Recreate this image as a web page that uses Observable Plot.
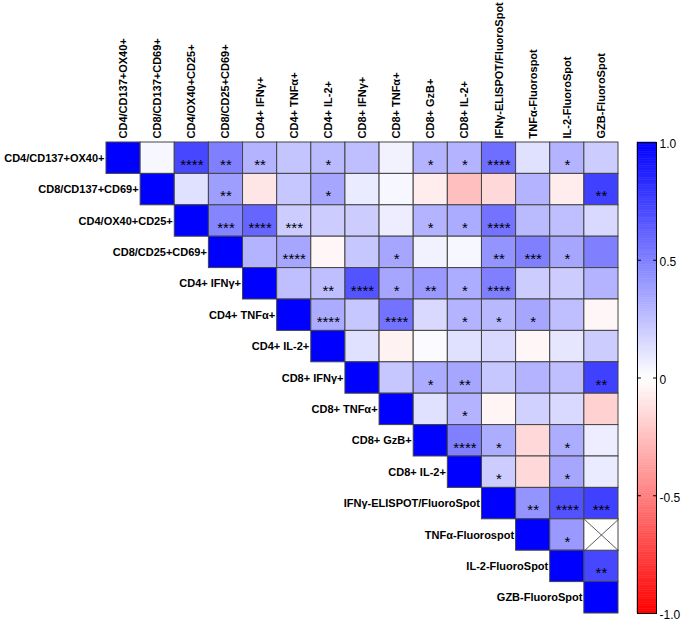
<!DOCTYPE html>
<html><head><meta charset="utf-8">
<script src="https://cdn.jsdelivr.net/npm/d3@7"></script>
<script src="https://cdn.jsdelivr.net/npm/@observablehq/plot@0.6"></script>
<style>
body{margin:0;background:#fff;}
#wrap{position:relative;width:685px;height:621px;overflow:hidden;}
#wrap svg{position:absolute;top:0;}
</style></head><body><div id="wrap"></div>
<script>
// Variables (same order for rows and columns)
const variables = [
  "CD4/CD137+OX40+", "CD8/CD137+CD69+", "CD4/OX40+CD25+", "CD8/CD25+CD69+",
  "CD4+ IFNγ+", "CD4+ TNFα+", "CD4+ IL-2+", "CD8+ IFNγ+", "CD8+ TNFα+",
  "CD8+ GzB+", "CD8+ IL-2+", "IFNγ-ELISPOT/FluoroSpot", "TNFα-Fluorospot",
  "IL-2-FluoroSpot", "GZB-FluoroSpot"
];

// Upper-triangle correlations, each row starts at the diagonal (null = not computed)
const corr = [
  [1, 0.03, 0.72, 0.50, 0.30, 0.23, 0.27, 0.25, 0.05, 0.30, 0.30, 0.57, 0.12, 0.30, 0.20],
  [1, 0.12, 0.38, -0.10, 0.22, 0.35, 0.08, 0.03, -0.07, -0.25, -0.15, 0.30, -0.07, 0.75],
  [1, 0.48, 0.60, 0.20, 0.20, 0.20, 0.07, 0.30, 0.33, 0.55, 0.27, 0.25, 0.15],
  [1, 0.30, 0.35, -0.03, 0.22, 0.35, 0.05, 0.03, 0.42, 0.50, 0.35, 0.50],
  [1, 0.25, 0.25, 0.67, 0.35, 0.40, 0.32, 0.50, 0.20, 0.20, 0.30],
  [1, 0.33, 0.22, 0.55, 0.15, 0.30, 0.28, 0.35, 0.25, -0.03],
  [1, 0.12, -0.05, 0.02, 0.12, 0.15, -0.03, 0.10, 0.20],
  [1, 0.22, 0.33, 0.35, 0.22, 0.30, 0.25, 0.75],
  [1, 0.12, 0.30, -0.04, 0.18, 0.15, -0.18],
  [1, 0.50, 0.32, -0.15, 0.32, 0.07],
  [1, 0.20, -0.15, 0.35, 0.08],
  [1, 0.42, 0.68, 0.75],
  [1, 0.40, null],
  [1, 0.72],
  [1]
];

// Significance stars, same layout as corr
const sig = [
  ["", "", "****", "**", "**", "", "*", "", "", "*", "*", "****", "", "*", ""],
  ["", "", "**", "", "", "*", "", "", "", "", "", "", "", "**"],
  ["", "***", "****", "***", "", "", "", "*", "*", "****", "", "", ""],
  ["", "", "****", "", "", "*", "", "", "**", "***", "*", ""],
  ["", "", "**", "****", "*", "**", "*", "****", "", "", ""],
  ["", "****", "", "****", "", "*", "*", "*", "", ""],
  ["", "", "", "", "", "", "", "", ""],
  ["", "", "*", "**", "", "", "", "**"],
  ["", "", "*", "", "", "", ""],
  ["", "****", "*", "", "*", ""],
  ["", "*", "", "*", ""],
  ["", "**", "****", "***"],
  ["", "*", ""],
  ["", "**"],
  [""]
];

const legendTicks = [1, 0.5, 0, -0.5, -1];
const legendTickLabels = ["1.0", "0.5", "0", "-0.5", "-1.0"];

const N = variables.length;
const cells = [];
corr.forEach((row, i) => row.forEach((v, k) => {
  cells.push({i, j: i + k, r: v, s: sig[i][k] || ""});
}));
const valid = cells.filter(d => d.r != null);
const missing = cells.filter(d => d.r == null);
const labels = variables.map((v, i) => ({v, i}));

const colorScale = {type: "linear", domain: [-1, 0, 1], range: ["#ff0000", "#ffffff", "#0000ff"]};
const font = "'Liberation Sans', Arial, Helvetica, sans-serif";
const gridStroke = "#444";

const main = Plot.plot({
  width: 685, height: 621,
  marginLeft: 106, marginRight: 67, marginTop: 142, marginBottom: 8,
  x: {domain: [0, N], axis: null},
  y: {domain: [0, N], axis: null, reverse: true},
  color: colorScale,
  style: {fontFamily: font, background: "transparent", overflow: "visible"},
  marks: [
    Plot.rect(valid, {x1: "j", x2: d => d.j + 1, y1: "i", y2: d => d.i + 1, fill: "r", stroke: gridStroke, strokeWidth: 1}),
    Plot.rect(missing, {x1: "j", x2: d => d.j + 1, y1: "i", y2: d => d.i + 1, fill: "white", stroke: gridStroke, strokeWidth: 1}),
    Plot.link(missing, {x1: "j", y1: "i", x2: d => d.j + 1, y2: d => d.i + 1, stroke: "#333", strokeWidth: 0.8}),
    Plot.link(missing, {x1: "j", y1: d => d.i + 1, x2: d => d.j + 1, y2: "i", stroke: "#333", strokeWidth: 0.8}),
    Plot.text(valid.filter(d => d.s), {x: d => d.j + 0.5, y: d => d.i + 0.5, text: "s", fontSize: 15, dy: 7, fill: "black", ariaLabel: "stars"}),
    Plot.text(labels, {x: "i", y: d => d.i + 0.5, text: "v", textAnchor: "end", dx: -2, fontWeight: "bold", fontSize: 11, fill: "black"}),
    Plot.text(labels, {x: d => d.i + 0.5, y: 0, text: "v", rotate: -90, textAnchor: "start", dy: -4, fontWeight: "bold", fontSize: 11, fill: "black"})
  ]
});
d3.select(main).selectAll("g[aria-label=stars] text").style("letter-spacing", "0.6px");
main.style.left = "0px";

// Colour bar legend
const step = 0.01;
const stops = d3.range(-1, 1 - step / 2, step);
const bar = Plot.plot({
  width: 48, height: 621,
  marginLeft: 0, marginRight: 29, marginTop: 142, marginBottom: 8,
  x: {domain: [0, 1], axis: null},
  y: {domain: [-1, 1], axis: null},
  color: colorScale,
  style: {fontFamily: font, background: "transparent", overflow: "visible"},
  marks: [
    Plot.rect(stops, {x1: 0, x2: 1, y1: d => d, y2: d => d + step, fill: d => d + step / 2, stroke: d => d + step / 2, strokeWidth: 0.5}),
    Plot.frame({stroke: "black", strokeWidth: 1}),
    Plot.link(legendTicks.slice(1, -1), {x1: 0, x2: 0.18, y1: d => d, y2: d => d, stroke: "black"}),
    Plot.link(legendTicks.slice(1, -1), {x1: 0.82, x2: 1, y1: d => d, y2: d => d, stroke: "black"}),
    Plot.text(legendTicks, {x: 1, y: d => d, text: (d, i) => legendTickLabels[i], textAnchor: "start", dx: 3, dy: 2, fontSize: 12, fill: "black"})
  ]
});
bar.style.left = "637px";

const wrap = document.getElementById("wrap");
wrap.appendChild(main);
wrap.appendChild(bar);
</script>
</body></html>
